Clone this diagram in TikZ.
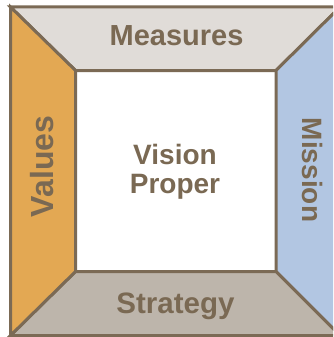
\documentclass[tikz,border=0pt]{standalone}
\usepackage{fontspec}
\setmainfont{Liberation Sans}
\definecolor{edge}{HTML}{7B6A55}
\definecolor{txt}{HTML}{7A6953}
\definecolor{topfill}{HTML}{E0DCD8}
\definecolor{leftfill}{HTML}{E3A853}
\definecolor{rightfill}{HTML}{B2C6E2}
\definecolor{botfill}{HTML}{BDB5AB}
\tikzset{
  panel/.style={draw=edge, line width=3pt, line join=miter},
  label/.style={text=txt, font=\fontsize{#1}{29}\selectfont\bfseries, inner sep=0pt},
  label/.default=28,
}
\begin{document}
\begin{tikzpicture}[x=1pt, y=-1pt]
\useasboundingbox (0,0) rectangle (333,337);
\clip (0,0) rectangle (333,337);
\coordinate (o1) at (10.5,7);
\coordinate (o2) at (340,7);
\coordinate (o3) at (340,335.5);
\coordinate (o4) at (10.5,335.5);
\coordinate (i1) at (75.5,70.5);
\coordinate (i2) at (276,70.5);
\coordinate (i3) at (276,271.5);
\coordinate (i4) at (75.5,271.5);
\fill[white] (i1) rectangle (i3);
\draw[panel, fill=topfill] (o1) -- (o2) -- (i2) -- (i1) -- cycle;
\draw[panel, fill=rightfill] (o2) -- (o3) -- (i3) -- (i2) -- cycle;
\draw[panel, fill=botfill] (o3) -- (o4) -- (i4) -- (i3) -- cycle;
\draw[panel, fill=leftfill] (o4) -- (o1) -- (i1) -- (i4) -- cycle;
\node[label=29, anchor=base] (measures) at (176.5,46) {Measures};
\node[label=29.5, anchor=base] (strategy) at (175.5,313) {Strategy};
\node[label=32, anchor=base, rotate=90] (values) at (53.5,166.5) {Values};
\node[label=28, anchor=base, rotate=-90] (mission) at (302,170) {Mission};
\node[label=28, anchor=base, align=center] (vision) at (175,193) {Vision\\Proper};
\end{tikzpicture}
\end{document}
